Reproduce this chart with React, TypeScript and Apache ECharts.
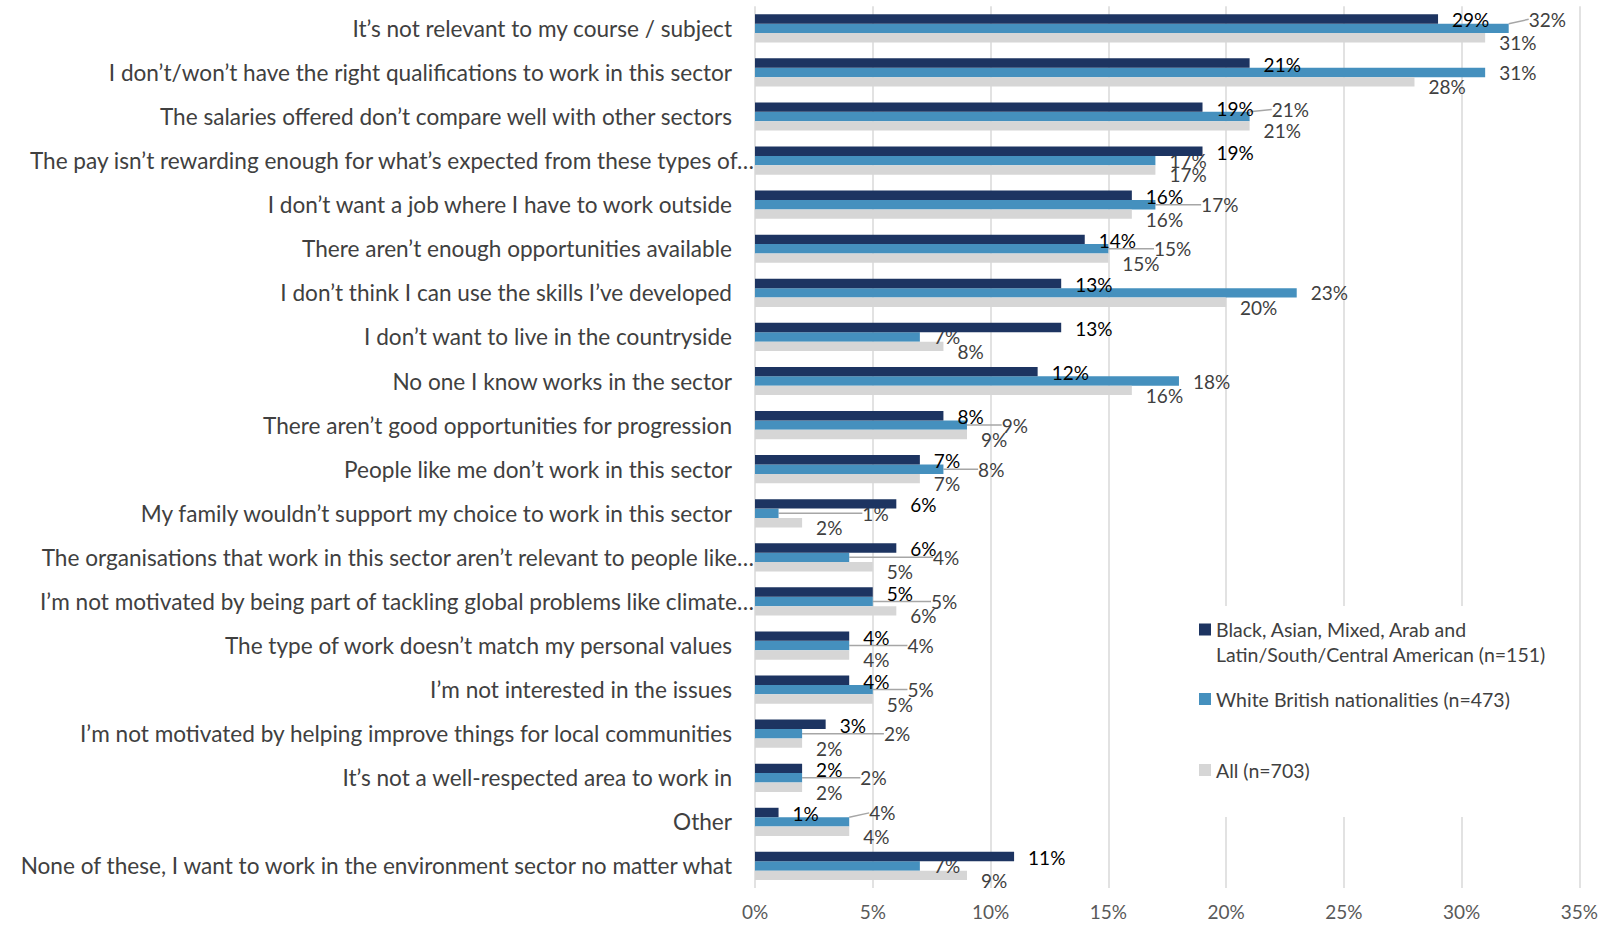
import React, { useEffect, useRef } from "react";
import * as echarts from "echarts";

const categories = [
  "It’s not relevant to my course / subject",
  "I don’t/won’t have the right qualifications to work in this sector",
  "The salaries offered don’t compare well with other sectors",
  "The pay isn’t rewarding enough for what’s expected from these types of…",
  "I don’t want a job where I have to work outside",
  "There aren’t enough opportunities available",
  "I don’t think I can use the skills I’ve developed",
  "I don’t want to live in the countryside",
  "No one I know works in the sector",
  "There aren’t good opportunities for progression",
  "People like me don’t work in this sector",
  "My family wouldn’t support my choice to work in this sector",
  "The organisations that work in this sector aren’t relevant to people like…",
  "I’m not motivated by being part of tackling global problems like climate…",
  "The type of work doesn’t match my personal values",
  "I’m not interested in the issues",
  "I’m not motivated by helping improve things for local communities",
  "It’s not a well-respected area to work in",
  "Other",
  "None of these, I want to work in the environment sector no matter what",
];

const seriesNames = [
  "Black, Asian, Mixed, Arab and Latin/South/Central American (n=151)",
  "White British nationalities (n=473)",
  "All (n=703)",
];

const bameValues = [29, 21, 19, 19, 16, 14, 13, 13, 12, 8, 7, 6, 6, 5, 4, 4, 3, 2, 1, 11];
const whiteValues = [32, 31, 21, 17, 17, 15, 23, 7, 18, 9, 8, 1, 4, 5, 4, 5, 2, 2, 4, 7];
const allValues = [31, 28, 21, 17, 16, 15, 20, 8, 16, 9, 7, 2, 5, 6, 4, 5, 2, 2, 4, 9];

const xMin = 0;
const xMax = 35;
const xInterval = 5;

const COLORS = ["#1D3461", "#4590BE", "#D6D6D6"];
const FONT = "Lato";
const LABEL_SIZE = 19;
const CAT_SIZE = 22.6;
const LABEL_DIST = 14;

const GRID_LEFT = 755;
const GRID_RIGHT_X = 1582;
const PPU = (GRID_RIGHT_X - GRID_LEFT) / (xMax - xMin);

let ctx: CanvasRenderingContext2D | null = null;
function measure(text: string): number {
  if (!ctx) {
    const c = document.createElement("canvas");
    ctx = c.getContext("2d");
  }
  if (!ctx) return text.length * 12;
  ctx.font = `${LABEL_SIZE}px ${FONT}`;
  return ctx.measureText(text).width;
}

// Decide how the blue label must move to keep clear of its neighbours.
function blueMove(i: number, ppu: number): { dx: number; dy: number } | null {
  const navy = bameValues[i];
  const blue = whiteValues[i];
  const gray = allValues[i];
  const navyW = measure(navy + "%");
  const blueW = measure(blue + "%");
  const grayW = measure(gray + "%");
  const blueStart = blue * ppu + LABEL_DIST;
  const blueEnd = blueStart + blueW;
  const navyStart = navy * ppu + LABEL_DIST;
  const navyLabelEnd = navyStart + navyW;
  const grayStart = gray * ppu + LABEL_DIST;
  const grayLabelEnd = grayStart + grayW;
  if (blueStart < navyLabelEnd + 18 && blueEnd > navyStart - 4) {
    const newStart = navyLabelEnd + 18;
    const dy = grayLabelEnd - newStart > 10 ? -7 : 0;
    return { dx: newStart - blueStart, dy };
  }
  if (gray > blue && grayStart < blueEnd + 2 && navy - blue <= 5) {
    return { dx: grayLabelEnd + 20 - blueStart, dy: 0 };
  }
  const overlapsGray = grayStart < blueEnd && grayLabelEnd > blueStart;
  if (overlapsGray && navyLabelEnd < blueStart) {
    return { dx: 6, dy: -9 };
  }
  return null;
}

export default function App() {
  const ref = useRef<HTMLDivElement>(null);

  useEffect(() => {
    document.body.style.margin = "0";
    document.body.style.overflow = "hidden";
    if (!ref.current) return;
    const chart = echarts.init(ref.current, undefined, { renderer: "svg" });

    const labelBase = {
      show: true,
      position: "right" as const,
      distance: LABEL_DIST,
      fontFamily: FONT,
      fontSize: LABEL_SIZE,
      formatter: "{c}%",
    };

    const legendText = { fontFamily: FONT, fontSize: 19.5, color: "#404040", lineHeight: 25 };

    const option: any = {
      animation: false,
      backgroundColor: "#ffffff",
      textStyle: { fontFamily: FONT },
      grid: {
        left: GRID_LEFT,
        right: 1601 - GRID_RIGHT_X,
        top: 6.3,
        bottom: 37,
        containLabel: false,
      },
      xAxis: {
        type: "value",
        min: xMin,
        max: xMax,
        interval: xInterval,
        axisLine: { show: false },
        axisTick: { show: false },
        axisLabel: {
          formatter: "{value}%",
          color: "#595959",
          fontFamily: FONT,
          fontSize: LABEL_SIZE,
          margin: 14,
        },
        splitLine: { show: true, lineStyle: { color: "#D9D9D9", width: 1.5 } },
      },
      yAxis: {
        type: "category",
        inverse: true,
        data: categories,
        axisLine: { show: false },
        axisTick: { show: false },
        axisLabel: {
          interval: 0,
          margin: 1,
          formatter: (v: string) => (v.endsWith("…") ? `{e|${v}}` : `{n|${v}}`),
          rich: {
            n: { padding: [0, 22, 0, 0], fontFamily: FONT, fontSize: CAT_SIZE, color: "#404040" },
            e: { padding: [0, 0, 0, 0], fontFamily: FONT, fontSize: CAT_SIZE, color: "#404040" },
          },
        },
      },
      graphic: [
        {
          type: "rect",
          z: 1,
          shape: { x: 1189, y: 606, width: 385, height: 211 },
          style: { fill: "#ffffff" },
        },
      ],
      legend: [
        {
          data: [seriesNames[0]],
          orient: "vertical",
          left: 1199,
          top: 617,
          padding: 0,
          itemWidth: 12,
          itemHeight: 37,
          icon: "path://M0 0H12V12H0Z M0 36.95H0.05V37H0Z",
          formatter: (n: string) => n.replace("Arab and ", "Arab and\n"),
          textStyle: legendText,
          selectedMode: false,
        },
        {
          data: [seriesNames[1]],
          orient: "vertical",
          left: 1199,
          top: 686.5,
          padding: 0,
          itemWidth: 12,
          itemHeight: 12,
          icon: "rect",
          textStyle: legendText,
          selectedMode: false,
        },
        {
          data: [seriesNames[2]],
          orient: "vertical",
          left: 1199,
          top: 757.5,
          padding: 0,
          itemWidth: 12,
          itemHeight: 12,
          icon: "rect",
          textStyle: legendText,
          selectedMode: false,
        },
      ],
      series: [
        {
          name: seriesNames[0],
          type: "bar",
          data: bameValues,
          barWidth: 9.4,
          barGap: "0%",
          itemStyle: { color: COLORS[0] },
          label: { ...labelBase, color: "#000000", offset: [0, 1] },
          z: 3,
        },
        {
          name: seriesNames[1],
          type: "bar",
          data: whiteValues.map((v, i) => ({
            value: v,
            labelLine: { show: blueMove(i, PPU) !== null },
          })),
          barWidth: 9.4,
          barGap: "0%",
          itemStyle: { color: COLORS[1] },
          label: { ...labelBase, color: "#404040", offset: [0, -1] },
          labelLine: { show: false, lineStyle: { color: "#A6A6A6", width: 1.5 } },
          labelLayout: (p: any) => {
            const i = p.dataIndex;
            const ppu = p.rect.width / whiteValues[i];
            const m = blueMove(i, ppu);
            if (!m) return {};
            return { dx: m.dx, dy: m.dy };
          },
          z: 2,
        },
        {
          name: seriesNames[2],
          type: "bar",
          data: allValues,
          barWidth: 9.4,
          barGap: "0%",
          itemStyle: { color: COLORS[2] },
          label: { ...labelBase, color: "#404040", offset: [0, 5] },
          z: 2,
        },
      ],
    };

    chart.setOption(option);
    return () => chart.dispose();
  }, []);

  return <div ref={ref} style={{ width: 1601, height: 925 }} />;
}
